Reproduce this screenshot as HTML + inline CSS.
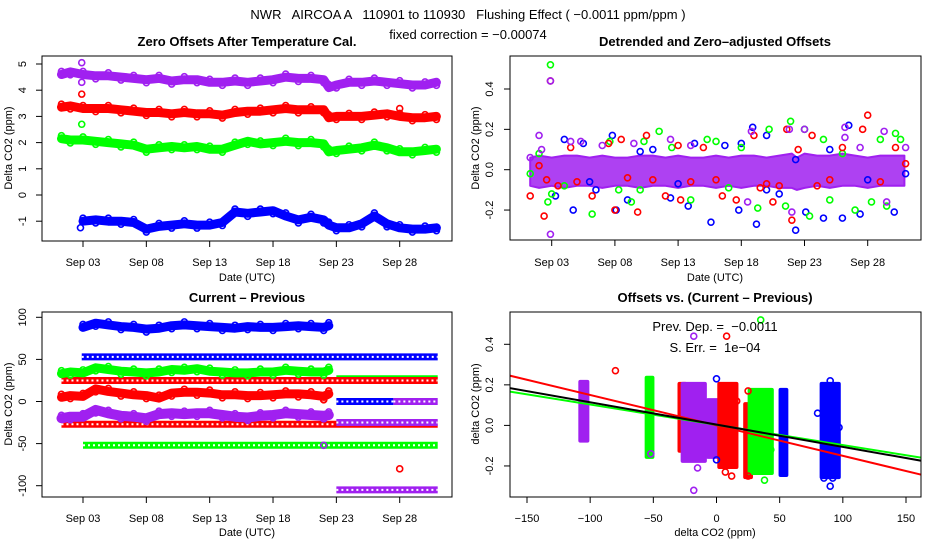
<!DOCTYPE html>
<html><head><meta charset="utf-8">
<style>
html,body{margin:0;padding:0;background:#fff;}
svg{display:block;font-family:"Liberation Sans",sans-serif;}
text{white-space:pre;}
</style></head>
<body>
<svg id="chart" width="936" height="540" viewBox="0 0 936 540" xmlns="http://www.w3.org/2000/svg" xml:space="preserve">
<rect width="936" height="540" fill="#fff"/>
<text x="468" y="19" font-size="13" text-anchor="middle">NWR   AIRCOA A   110901 to 110930   Flushing Effect ( −0.0011 ppm/ppm )</text>
<text x="468" y="39" font-size="13" text-anchor="middle">fixed correction = −0.00074</text>
</svg>
<script>
// ---------- DATA ----------
const colors = {p:'#a020f0', r:'#ff0000', g:'#00ff00', b:'#0000ff', k:'#000000'};
// Panel 1: zero offsets (day grid)
const days = [1.3,2,3,4,5,6,7,8,9,10,11,12,13,14,15,16,17,18,19,20,21,22,22.4,23,24,25,26,27,28,29,30,30.9];
const zeroPurple = [4.6,4.7,4.6,4.55,4.55,4.5,4.45,4.4,4.45,4.35,4.4,4.4,4.3,4.3,4.35,4.3,4.35,4.4,4.5,4.45,4.45,4.4,4.1,4.2,4.3,4.3,4.35,4.3,4.25,4.2,4.2,4.3];
const zeroRed = [3.35,3.4,3.3,3.3,3.3,3.25,3.2,3.15,3.15,3.1,3.15,3.1,3.1,3.05,3.15,3.2,3.2,3.25,3.3,3.25,3.25,3.25,2.95,3.0,3.0,3.0,3.05,3.1,3.0,2.95,2.95,3.0];
const zeroGreen = [2.15,2.1,2.1,2.05,2.0,1.95,1.9,1.75,1.8,1.85,1.8,1.85,1.75,1.75,1.9,2.05,1.95,2.0,2.05,2.0,2.0,1.95,1.65,1.7,1.75,1.8,1.9,1.8,1.65,1.65,1.7,1.75];
const zeroBlue = [null,null,-1.0,-0.95,-1.0,-1.0,-1.05,-1.3,-1.2,-1.15,-1.1,-1.15,-1.15,-1.05,-0.65,-0.7,-0.65,-0.6,-0.8,-0.95,-0.85,-0.95,-1.15,-1.25,-1.25,-1.1,-0.8,-1.1,-1.25,-1.3,-1.3,-1.25];
const zeroOutliers = [[2.9,5.05,'p'],[2.9,4.3,'p'],[2.9,3.85,'r'],[2.9,2.7,'g'],[28,3.3,'r'],[2.8,-1.25,'b']];
const zeroYTicks = [-1,0,1,2,3,4,5];
const dateTicks = [3,8,13,18,23,28];
const dateLabels = ['Sep 03','Sep 08','Sep 13','Sep 18','Sep 23','Sep 28'];
// Panel 2: detrended residuals
const bandLo = [-0.08,-0.09,-0.08,-0.09,-0.08,-0.08,-0.09,-0.08,-0.08,-0.09,-0.08,-0.08,-0.09,-0.08,-0.08,-0.09,-0.08,-0.09,-0.08,-0.08,-0.09,-0.09,-0.1,-0.09,-0.08,-0.09,-0.08,-0.08,-0.09,-0.08,-0.08,-0.08];
const bandHi = [0.06,0.07,0.06,0.07,0.07,0.06,0.07,0.06,0.06,0.07,0.07,0.06,0.07,0.06,0.06,0.07,0.06,0.07,0.07,0.06,0.07,0.08,0.06,0.08,0.07,0.07,0.08,0.07,0.06,0.07,0.07,0.07];
const residBlue = [[3.3,-0.13],[4,0.15],[4.7,-0.2],[6.5,-0.1],[7.8,0.17],[8.1,-0.2],[10,0.09],[11,0.1],[12.4,-0.14],[13.8,-0.18],[14.3,0.13],[15.6,-0.26],[16.7,0.12],[17.8,-0.2],[18.9,0.21],[19.2,-0.27],[20,0.17],[21,-0.12],[22.3,-0.3],[22.3,0.05],[23.1,-0.21],[24.5,-0.24],[26,-0.24],[26.5,0.22],[27.4,-0.22],[30.1,-0.21],[31,-0.02],[5.5,0.13],[9,-0.15],[18,0.13],[25,0.1],[6,-0.06],[13,-0.07],[20,-0.1],[28,-0.05]];
const residRed = [[1.3,-0.13],[2.4,-0.23],[2.6,-0.05],[4.5,0.11],[6.2,-0.13],[7.5,0.13],[8,-0.2],[8.5,0.15],[9.8,-0.21],[10.5,0.17],[12,-0.13],[13,0.12],[13.2,-0.15],[15,0.11],[16.5,-0.13],[17.6,-0.15],[19,0.17],[19.5,-0.09],[20.5,-0.16],[21.6,0.2],[22,-0.25],[22.5,0.1],[23.6,0.17],[24,-0.08],[26,0.11],[27.6,0.2],[28,0.27],[30.2,0.11],[31,0.03],[2.9,0.44],[3.5,-0.08],[5,-0.06],[11,-0.05],[14,-0.06],[21,-0.08],[25,-0.05],[29,-0.06],[2,0.02],[9,-0.04],[16,-0.05],[20,-0.07]];
const residGreen = [[1.3,-0.02],[2,0.08],[2.7,-0.16],[3,-0.12],[6.2,-0.22],[7.6,0.14],[8.3,-0.1],[9.3,-0.16],[10.3,0.14],[11.5,0.19],[12.5,0.11],[14,-0.15],[15.3,0.15],[16,0.14],[18,0.11],[19.3,-0.19],[20.2,0.2],[21.5,-0.18],[21.9,0.24],[23,0.2],[23.4,-0.23],[24.5,0.15],[25,-0.15],[27,-0.2],[29,0.15],[29.5,-0.18],[30.2,0.18],[30.6,0.15],[2.9,0.52],[28.3,-0.16],[4,-0.08],[10,-0.1],[17,-0.09],[26,0.08]];
const residPurple = [[1.3,0.06],[2,0.17],[2.2,0.1],[2.9,-0.32],[2.9,0.44],[4.5,0.14],[5.3,0.14],[7,0.12],[9.5,0.13],[12.4,0.15],[14,0.12],[18.8,0.19],[18.5,-0.16],[21.8,0.2],[22,-0.21],[23,0.2],[26.2,0.21],[26.2,0.16],[29.3,0.19],[29.5,-0.16],[31,0.11],[27.4,0.11]];
const residYTicks = [-0.2,0.0,0.2,0.4];
const residYLabels = ['-0.2','0.0','0.2','0.4'];
// Panel 3: current - previous
const diffBlue = [null,null,88,93,91,89,88,86,87,90,91,90,89,88,87,89,88,88,89,90,89,88,90,null,null,null,null,null,null,null,null,null];
const diffGreen = [33,35,34,40,38,36,35,34,35,38,37,39,36,35,34,34,35,35,37,36,35,35,37,null,null,null,null,null,null,null,null,null];
const diffRed = [5,7,6,15,12,10,8,7,4,10,11,11,10,8,8,7,7,8,9,9,8,6,9,null,null,null,null,null,null,null,null,null];
const diffPurple = [-20,-18,-18,-10,-14,-17,-18,-20,-15,-14,-15,-14,-14,-16,-18,-19,-17,-16,-14,-15,-16,-17,-16,null,null,null,null,null,null,null,null,null];
const levelStart = [2.9,23,1.3,1.3,23,23,27.5,3,23];
const levelEnd   = [31,31,31,31,31,27.5,31,31,31];
const levelValue = [53,27,25,-27,-25,0,0,-52,-105];
const levelColor = ['b','g','r','r','p','b','p','g','p'];
const diffOutliers = [[28,-80,'r'],[22,-52,'p'],[22,2,'r']];
const diffYTicks = [-100,-50,0,50,100];
// Panel 4: offsets vs difference
const clusterX  = [-105,-53,-27,-18,-2,9,25,35,53,90];
const clusterHW = [2,1.5,1.5,8,4,6,1.5,8,1.5,6];
const clusterLo = [-0.07,-0.15,-0.12,-0.17,-0.15,-0.2,-0.25,-0.23,-0.24,-0.25];
const clusterHi = [0.21,0.23,0.2,0.2,0.12,0.2,0.1,0.17,0.17,0.2];
const clusterC  = ['p','g','r','p','p','r','r','g','b','b'];
const scatterOutliers = [[-80,0.27,'r'],[8,0.44,'r'],[12,-0.25,'r'],[7,-0.23,'r'],[25,-0.25,'r'],[25,0.17,'r'],[16,0.12,'r'],[35,0.52,'g'],[38,-0.27,'g'],[43,-0.12,'g'],[-18,-0.32,'p'],[-18,0.44,'p'],[-52,-0.14,'p'],[-15,-0.21,'p'],[-23,-0.15,'p'],[0,0.23,'b'],[0,-0.17,'b'],[90,-0.3,'b'],[85,-0.26,'b'],[92,-0.26,'b'],[90,0.22,'b'],[80,0.06,'b'],[97,-0.01,'b']];
const fitSlope = [-0.0011,-0.0015,-0.001];
const fitIntercept = [0.004,0.0,0.003];
const fitColor = ['k','r','g'];
const scatterXTicks = [-150,-100,-50,0,50,100,150];
const scatterYTicks = [-0.2,0.0,0.2,0.4];

// ---------- HELPERS ----------
const svg = document.getElementById('chart');
const NS = 'http://www.w3.org/2000/svg';
function mk(tag, attrs, parent){const e=document.createElementNS(NS,tag);for(const k in attrs)e.setAttribute(k,attrs[k]);(parent||svg).appendChild(e);return e;}
function lin(d0,d1,r0,r1){return v=>r0+(v-d0)*(r1-r0)/(d1-d0);}
function frame(g,x0,y0,x1,y1){
  const r=mk('rect',{x:x0,y:y0,width:x1-x0,height:y1-y0,fill:'none',stroke:'#000','stroke-width':1},g);
  
  
}
function xAxis(g,ticks,labels,sx,yb,title,ly,ty,cx){
  const ax=mk('g',{},g);
  
  
  mk('line',{x1:sx(ticks[0]),x2:sx(ticks[ticks.length-1]),y1:yb,y2:yb,stroke:'#000'},ax);
  ticks.forEach((t,i)=>{
    mk('line',{x1:sx(t),x2:sx(t),y1:yb,y2:yb+6,stroke:'#000'},ax);
    const tx=mk('text',{x:sx(t),y:ly,'font-size':11,'text-anchor':'middle'},ax);
    tx.textContent=labels[i];
    
    
  });
  const tt=mk('text',{x:cx,y:ty,'font-size':11,'text-anchor':'middle'},ax);
  tt.textContent=title;
  
  
}
function yAxis(g,ticks,labels,sy,xl,lx,title,tx,cy){
  const ax=mk('g',{},g);
  
  
  mk('line',{x1:xl,x2:xl,y1:sy(ticks[0]),y2:sy(ticks[ticks.length-1]),stroke:'#000'},ax);
  ticks.forEach((t,i)=>{
    mk('line',{x1:xl-6,x2:xl,y1:sy(t),y2:sy(t),stroke:'#000'},ax);
    const e=mk('text',{x:lx,y:sy(t),'font-size':11,'text-anchor':'middle',transform:`rotate(-90 ${lx} ${sy(t)})`},ax);
    e.textContent=labels[i];
    
    
  });
  const tt=mk('text',{x:tx,y:cy,'font-size':11,'text-anchor':'middle',transform:`rotate(-90 ${tx} ${cy})`},ax);
  tt.textContent=title;
  
  
}
function title(txt,x,y,name){
  const t=mk('text',{x:x,y:y,'font-size':13,'font-weight':'bold','text-anchor':'middle'});
  t.textContent=txt;
  
  
}
function circ(g,x,y,c){
  const e=mk('circle',{cx:x,cy:y,r:3,fill:'none',stroke:colors[c],'stroke-width':1.6},g);
  
  
}
function band(g,xs,ys,sx,sy,c,w,name){
  let d='',pen=false;
  xs.forEach((x,i)=>{const v=ys[i];if(v===null||v===undefined){pen=false;return;}d+=(pen?'L':'M')+sx(x).toFixed(1)+','+sy(v).toFixed(1);pen=true;});
  const p=mk('path',{d:d,fill:'none',stroke:colors[c],'stroke-width':w,'stroke-linejoin':'round','stroke-linecap':'round'},g);
  
  
  xs.forEach((x,i)=>{const v=ys[i];if(v===null)return;circ(g,sx(x),sy(v)+((i%2)?3:-3),c);});
}

// ---------- PANEL 1 ----------
(function(){
  const g=mk('g',{});
  
  
  const sx=lin(3,28,83,399.7), sy=lin(0,5,195,64);
  title('Zero Offsets After Temperature Cal.',247,46,'zero-offsets-title');
  band(g,days,zeroPurple,sx,sy,'p',9,'series-purple');
  band(g,days,zeroRed,sx,sy,'r',9,'series-red');
  band(g,days,zeroGreen,sx,sy,'g',9,'series-green');
  band(g,days,zeroBlue,sx,sy,'b',9,'series-blue');
  zeroOutliers.forEach(o=>circ(g,sx(o[0]),sy(o[1]),o[2]));
  frame(g,42,56,452,241);
  xAxis(g,dateTicks,dateLabels,sx,241,'Date (UTC)',266,281,247);
  yAxis(g,zeroYTicks,zeroYTicks.map(String),sy,42,26,'Delta CO2 (ppm)',12,148);
})();

// ---------- PANEL 2 ----------
(function(){
  const g=mk('g',{});
  
  
  const sx=lin(3,28,551.7,867.7), sy=lin(0,0.4,169.7,89);
  title('Detrended and Zero\u2013adjusted Offsets',715,46,'detrended-title');
  let d='M'+days.map((x,i)=>sx(x).toFixed(1)+','+sy(bandHi[i]).toFixed(1)).join('L');
  for(let i=days.length-1;i>=0;i--)d+='L'+sx(days[i]).toFixed(1)+','+sy(bandLo[i]).toFixed(1);
  const b=mk('path',{d:d+'Z',fill:colors.p,'fill-opacity':0.85,stroke:colors.p,'stroke-width':2,'stroke-linejoin':'round'},g);
  
  
  residBlue.forEach(o=>circ(g,sx(o[0]),sy(o[1]),'b'));
  residGreen.forEach(o=>circ(g,sx(o[0]),sy(o[1]),'g'));
  residRed.forEach(o=>circ(g,sx(o[0]),sy(o[1]),'r'));
  residPurple.forEach(o=>circ(g,sx(o[0]),sy(o[1]),'p'));
  frame(g,510,56,921,240);
  xAxis(g,dateTicks,dateLabels,sx,240,'Date (UTC)',266,281,715);
  yAxis(g,residYTicks,residYLabels,sy,510,493,'Delta CO2 (ppm)',479,148);
})();

// ---------- PANEL 3 ----------
(function(){
  const g=mk('g',{});
  
  
  const sx=lin(3,28,83,399.7), sy=lin(0,100,401.5,317.3);
  title('Current \u2013 Previous',247,302,'current-previous-title');
  levelValue.forEach((v,i)=>{
    const l=mk('line',{x1:sx(levelStart[i]),x2:sx(levelEnd[i]),y1:sy(v),y2:sy(v),stroke:colors[levelColor[i]],'stroke-width':7},g);
    
    
    const h=mk('line',{x1:sx(levelStart[i]),x2:sx(levelEnd[i]),y1:sy(v),y2:sy(v),stroke:'#fff','stroke-width':2,'stroke-dasharray':'2 3'},g);
    
    
  });
  band(g,days,diffBlue,sx,sy,'b',9,'series-blue');
  band(g,days,diffGreen,sx,sy,'g',9,'series-green');
  band(g,days,diffRed,sx,sy,'r',9,'series-red');
  band(g,days,diffPurple,sx,sy,'p',10,'series-purple');
  diffOutliers.forEach(o=>circ(g,sx(o[0]),sy(o[1]),o[2]));
  frame(g,42,312,452,497);
  xAxis(g,dateTicks,dateLabels,sx,497,'Date (UTC)',522,536,247);
  yAxis(g,diffYTicks,diffYTicks.map(String),sy,42,26,'Delta CO2 (ppm)',12,404);
})();

// ---------- PANEL 4 ----------
(function(){
  const g=mk('g',{});
  
  
  const sx=lin(-150,150,527,906), sy=lin(0,0.4,425.4,344.3);
  title('Offsets vs. (Current \u2013 Previous)',715,302,'scatter-title');
  clusterX.forEach((cx,i)=>{
    const x0=sx(cx-clusterHW[i])-3, x1=sx(cx+clusterHW[i])+3;
    const y0=sy(clusterHi[i])-3, y1=sy(clusterLo[i])+3;
    const r=mk('rect',{x:x0,y:y0,width:x1-x0,height:y1-y0,rx:2,fill:colors[clusterC[i]]},g);
    
    
  });
  scatterOutliers.forEach(o=>circ(g,sx(o[0]),sy(o[1]),o[2]));
  const cp=mk('clipPath',{id:'clip4'},g);
  mk('rect',{x:510,y:312,width:411,height:185},cp);
  [1,2,0].forEach(i=>{
    const xa=-165,xb=165;
    const l=mk('line',{x1:sx(xa),x2:sx(xb),y1:sy(fitIntercept[i]+fitSlope[i]*xa),y2:sy(fitIntercept[i]+fitSlope[i]*xb),stroke:colors[fitColor[i]],'stroke-width':2,'clip-path':'url(#clip4)'},g);
    
    
  });
  const t1=mk('text',{x:715,y:331,'font-size':13,'text-anchor':'middle'},g);
  t1.textContent='Prev. Dep. =  \u22120.0011';
  
  
  const t2=mk('text',{x:715,y:352,'font-size':13,'text-anchor':'middle'},g);
  t2.textContent='S. Err. =  1e\u221204';
  
  
  frame(g,510,312,921,497);
  xAxis(g,scatterXTicks,scatterXTicks.map(v=>v<0?'\u2212'+(-v):String(v)),sx,497,'delta CO2 (ppm)',522,536,715);
  yAxis(g,scatterYTicks,residYLabels,sy,510,493,'delta CO2 (ppm)',479,404);
})();
</script>
</body></html>
